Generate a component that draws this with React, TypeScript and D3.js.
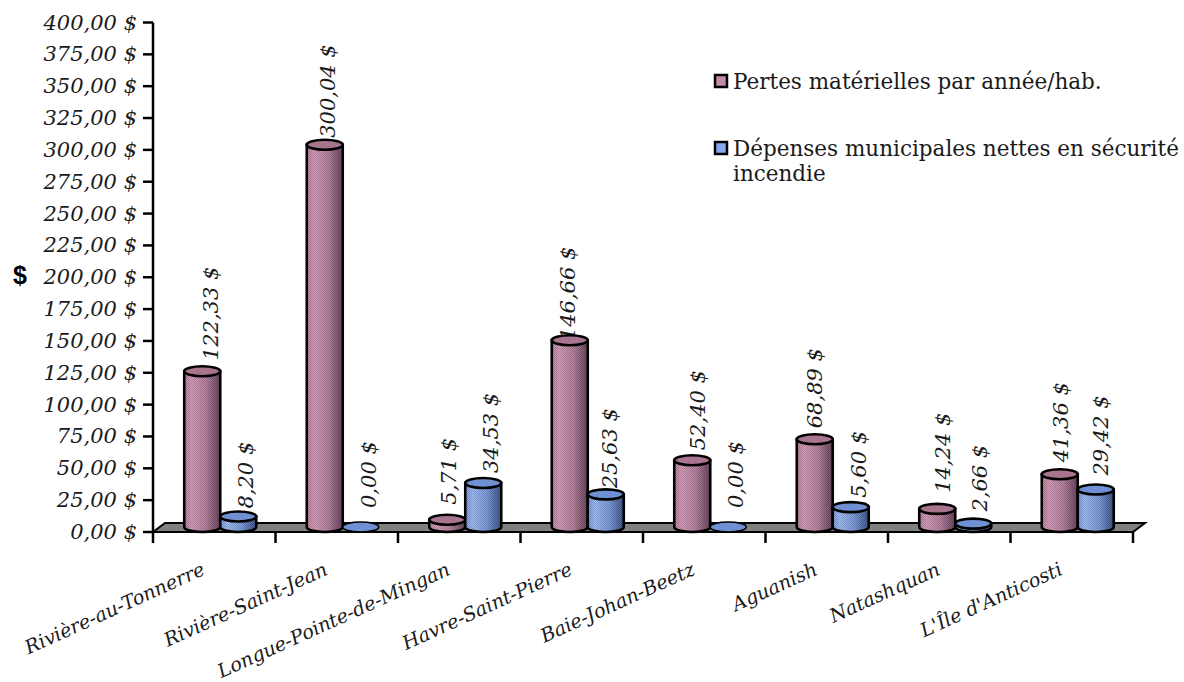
import React from "react";
import * as d3 from "d3";

const categories = ["Rivière-au-Tonnerre", "Rivière-Saint-Jean", "Longue-Pointe-de-Mingan", "Havre-Saint-Pierre", "Baie-Johan-Beetz", "Aguanish", "Natashquan", "L'Île d'Anticosti"];
const seriesNames = ["Pertes", "Depenses"];
const pertes = [122.33, 300.04, 5.71, 146.66, 52.4, 68.89, 14.24, 41.36];
const depenses = [8.2, 0, 34.53, 25.63, 0, 15.6, 2.66, 29.42];
const yTicks = d3.range(0, 401, 25);

// Gap in pixels between a cylinder's top and the start of its rotated value label.
const pertesLabelGap = [11, 7, 15, 0, 10, 11, 16, 12];
const depensesLabelGap = [8, 19, 10, 6, 19, -4, 12, 14];
// Sideways nudge of each value label.
const pertesLabelNudge = [3, -3, -4.5, -8, 0, -6, 0, -5];
const depensesLabelNudge = [2, 2, 2, -2, 2, 2, 1, -1];

const W = 1184, H = 682;
const axisX = 153, axisRight = 1133, floorY = 532, topY = 22.5, depth = 12, floorH = 9;
const FONT = "'DejaVu Serif', serif";
const INK = "#1a1a1a";

const y = d3.scaleLinear().domain([0, 400]).range([floorY, topY]);
const x = d3.scaleBand<string>().domain(categories).range([axisX, axisRight]);
const frFormat = (v: number) => v.toFixed(2).replace(".", ",") + " $";

const palette = {
  Pertes: { light: "#d9a0bd", mid: "#bb86a2", dark: "#6a4760", top: "#a9748e" },
  Depenses: { light: "#a3c0f8", mid: "#7f9fe0", dark: "#43558a", top: "#7090d4" },
};

function Cylinder({ cx, value, name }: { cx: number; value: number; name: string }) {
  const rx = 18, ry = 5;
  const base = floorY - ry;
  const top = y(value) - ry;
  const col = palette[name as keyof typeof palette];
  const body = `M${cx - rx},${top} L${cx - rx},${base} A${rx},${ry} 0 0 0 ${cx + rx},${base} L${cx + rx},${top} Z`;
  return (
    <g stroke="#000" strokeWidth={2.6}>
      {value > 0 && <path d={body} fill={`url(#grad-${name})`} />}
      {value > 0 && <path d={body} fill="url(#dither)" stroke="none" />}
      <ellipse cx={cx} cy={top} rx={rx} ry={ry} fill={col.top} strokeWidth={value > 0 ? 2.6 : 1.5} />
    </g>
  );
}

export default function App() {
  const barW = 36;
  const shift = depth / 2;
  const center = (c: string) => (x(c) as number) + x.bandwidth() / 2 + shift;
  const tickXs = d3.range(0, categories.length + 1).map((i) => axisX + i * x.step());
  const labels: JSX.Element[] = [];
  categories.forEach((c, i) => {
    [pertes, depenses].forEach((vals, s) => {
      const gaps = s === 0 ? pertesLabelGap : depensesLabelGap;
      const nudge = s === 0 ? pertesLabelNudge : depensesLabelNudge;
      const cx = center(c) + (s === 0 ? -barW / 2 : barW / 2);
      const ly = y(vals[i]) - 5 - gaps[i];
      labels.push(
        <text key={`${c}-${s}`} transform={`translate(${cx + 13 + nudge[i]},${ly}) rotate(-90)`} fontSize={21} fontStyle="italic" fontFamily={FONT} fill={INK}>
          {frFormat(vals[i])}
        </text>
      );
    });
  });

  return (
    <svg width={W} height={H} style={{ position: "absolute", left: 0, top: 0, background: "#fff" }}>
      <defs>
        {seriesNames.map((n) => {
          const c = palette[n as keyof typeof palette];
          return (
            <linearGradient key={n} id={`grad-${n}`} x1="0" x2="1" y1="0" y2="0">
              <stop offset="0" stopColor={c.mid} />
              <stop offset="0.2" stopColor={c.light} />
              <stop offset="0.6" stopColor={c.mid} />
              <stop offset="1" stopColor={c.dark} />
            </linearGradient>
          );
        })}
        <pattern id="dither" width={2} height={2} patternUnits="userSpaceOnUse">
          <rect x={0} y={0} width={1} height={1} fill="#000" fillOpacity={0.2} />
          <rect x={1} y={1} width={1} height={1} fill="#000" fillOpacity={0.2} />
        </pattern>
      </defs>

      {/* floor of the 3D plot */}
      <polygon
        points={`${axisX},${floorY} ${axisX + depth},${floorY - floorH} ${axisRight + depth},${floorY - floorH} ${axisRight},${floorY}`}
        fill="#808080" stroke="#000" strokeWidth={2}
      />

      {/* value axis */}
      <line x1={axisX} x2={axisX} y1={topY} y2={floorY} stroke="#000" strokeWidth={2.5} />
      {yTicks.map((t) => (
        <g key={t}>
          <line x1={axisX - 10} x2={axisX} y1={y(t)} y2={y(t)} stroke="#000" strokeWidth={2.5} />
          <text x={137} y={y(t) + 7} textAnchor="end" fontSize={21} fontStyle="italic" fontFamily={FONT} fill={INK}>
            {frFormat(t)}
          </text>
        </g>
      ))}
      <text x={20} y={284} textAnchor="middle" fontSize={25} fontWeight="bold" fontFamily="'Liberation Sans', sans-serif">$</text>

      {/* category axis */}
      {tickXs.map((t) => (
        <line key={t} x1={t} x2={t} y1={floorY} y2={floorY + 11} stroke="#000" strokeWidth={2.5} />
      ))}
      {categories.map((c) => (
        <text key={c} transform={`translate(${center(c) - 14},574) rotate(-24.4)`} textAnchor="end" fontSize={19.3} fontStyle="italic" fontFamily={FONT} fill={INK}>
          {c}
        </text>
      ))}

      {/* value labels sit behind the cylinders */}
      {labels}

      {categories.map((c, i) => (
        <g key={c}>
          <Cylinder cx={center(c) - barW / 2} value={pertes[i]} name="Pertes" />
          <Cylinder cx={center(c) + barW / 2} value={depenses[i]} name="Depenses" />
        </g>
      ))}

      {/* legend */}
      <g fontFamily={FONT} fontSize={21.5} fill={INK}>
        <rect x={715} y={75} width={12} height={12} fill="#c48aa8" stroke="#000" strokeWidth={2.5} />
        <text x={733} y={89}>Pertes matérielles par année/hab.</text>
        <rect x={715} y={142} width={12} height={12} fill="#86a6f0" stroke="#000" strokeWidth={2.5} />
        <text x={733} y={156}>Dépenses municipales nettes en sécurité</text>
        <text x={733} y={181}>incendie</text>
      </g>
    </svg>
  );
}
